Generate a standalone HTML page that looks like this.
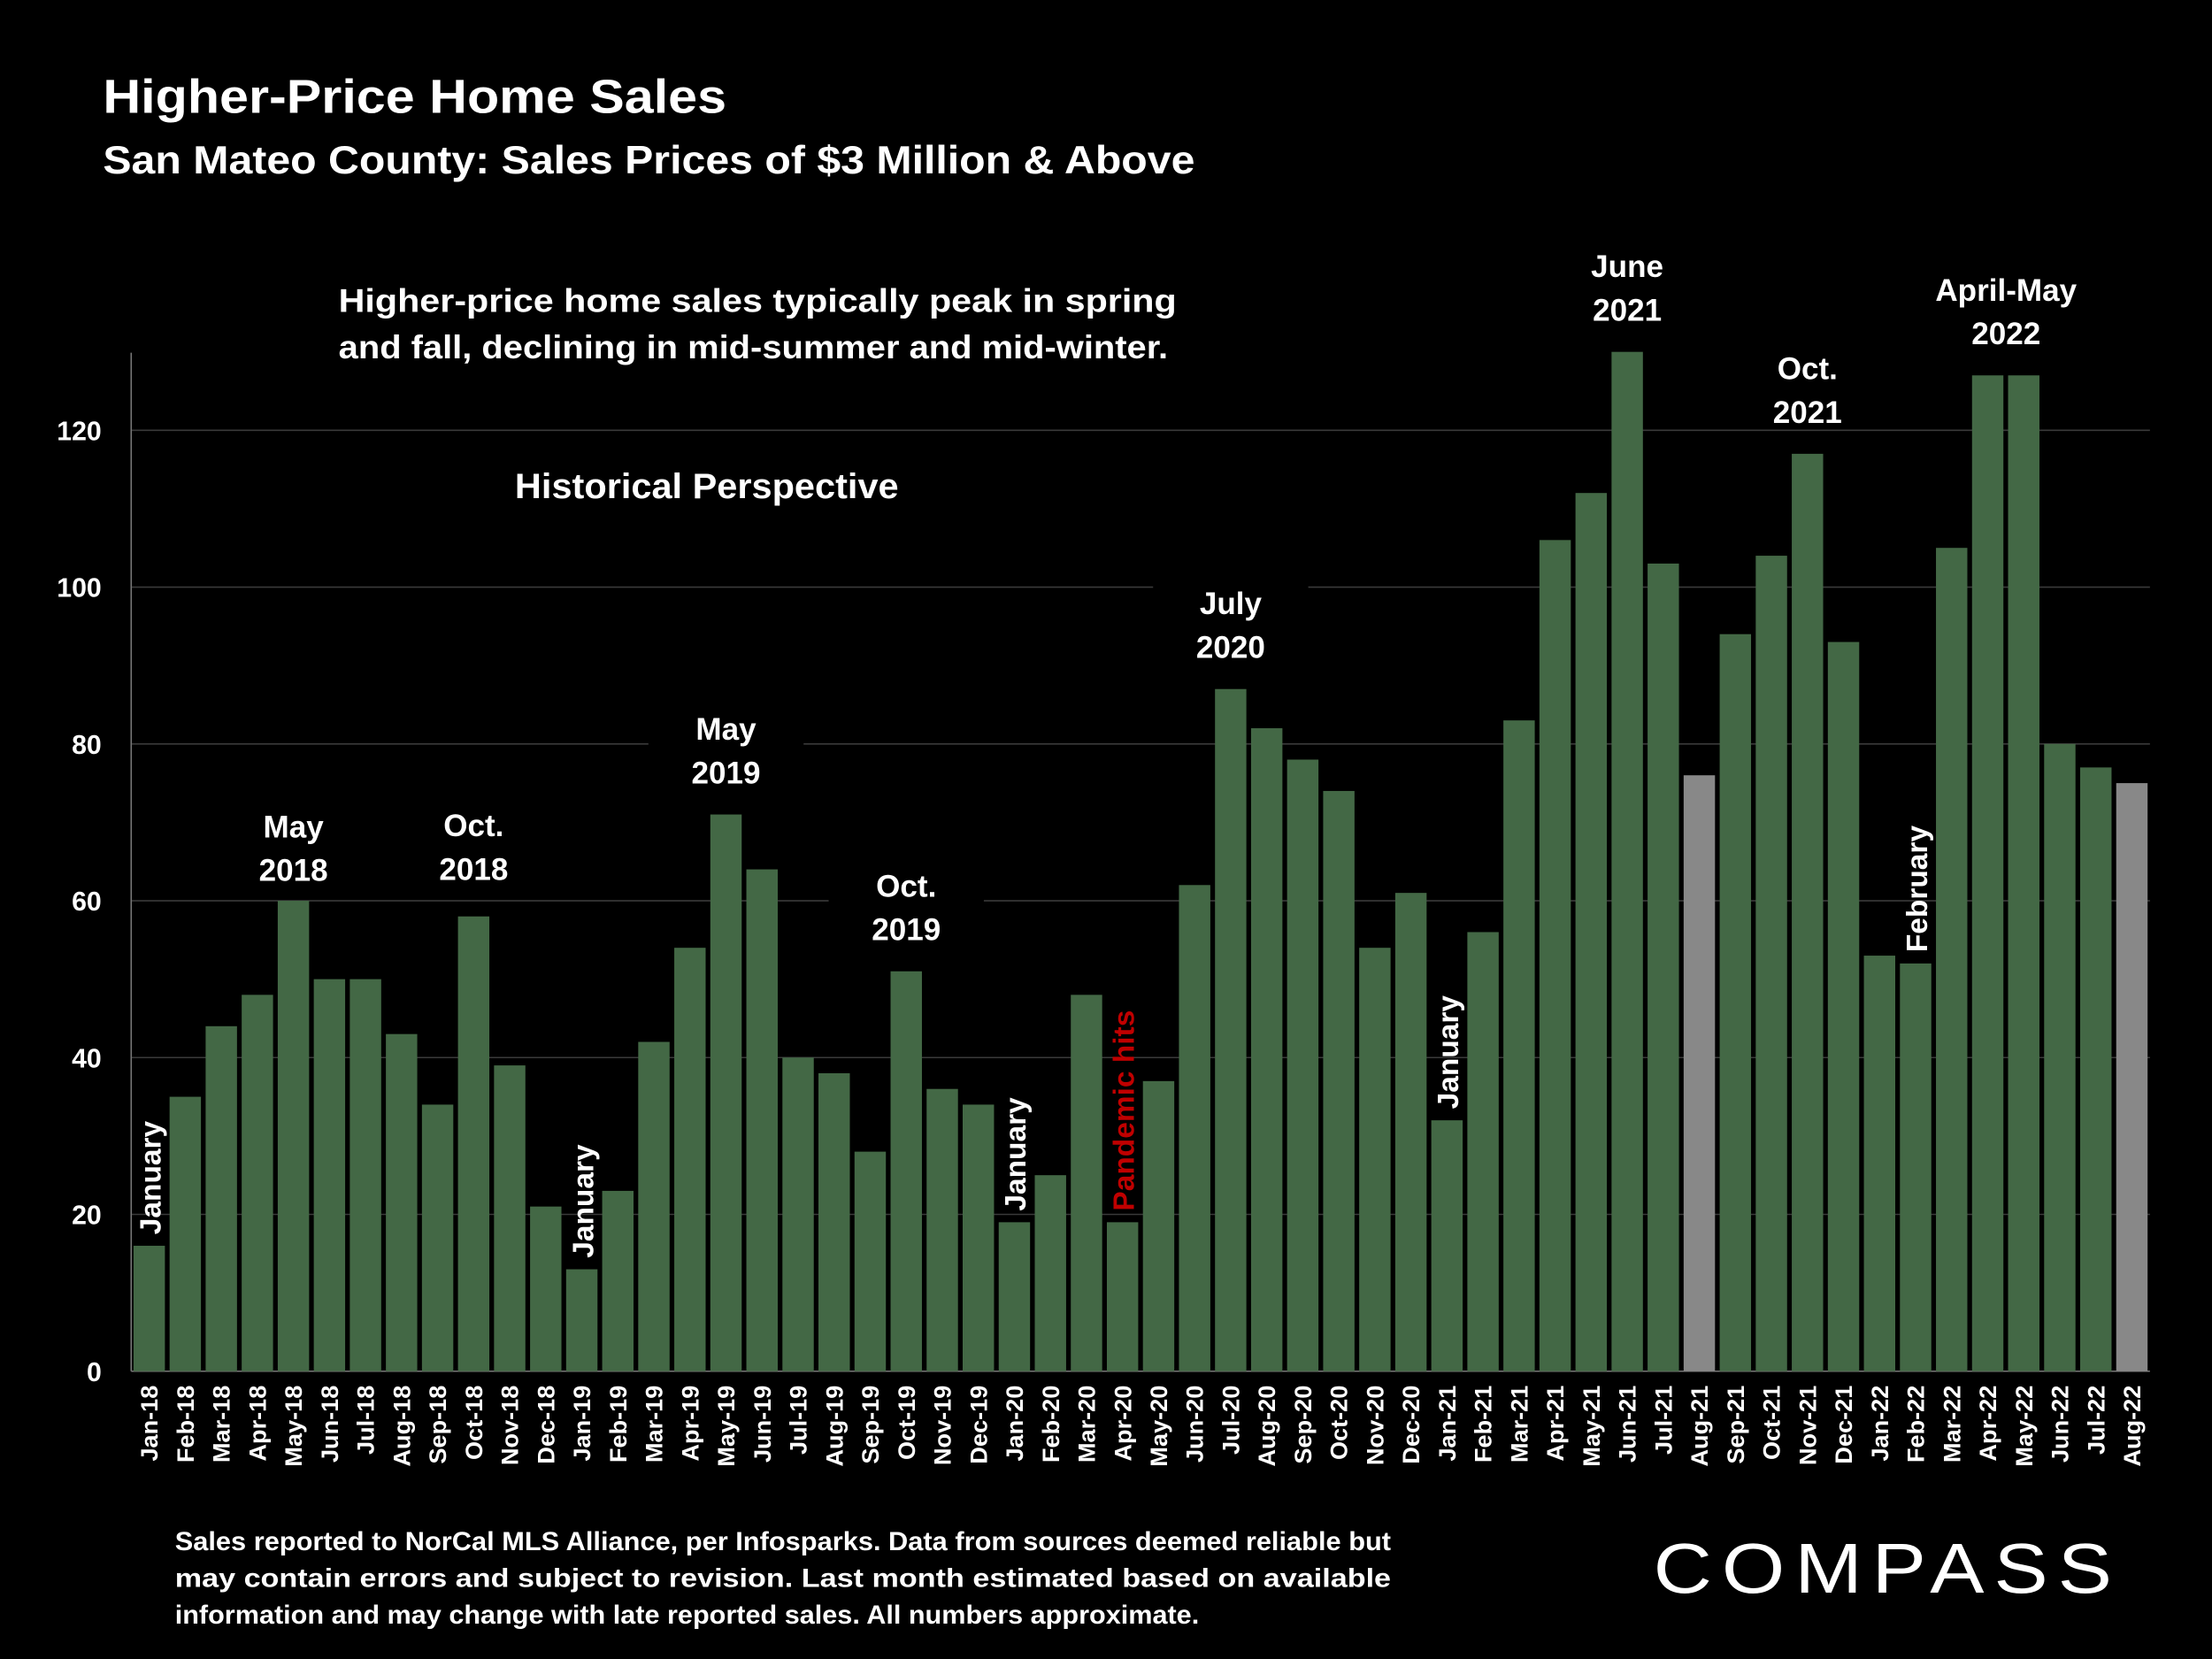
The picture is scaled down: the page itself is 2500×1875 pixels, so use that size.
<!DOCTYPE html>
<html><head><meta charset="utf-8"><style>
html,body{margin:0;padding:0;background:#000;}
svg{display:block;}
text{font-family:"Liberation Sans",sans-serif;font-weight:bold;fill:#fff;}
</style></head><body>
<svg id="chart" width="2500" height="1875" viewBox="0 0 1568 1176" preserveAspectRatio="none" xmlns="http://www.w3.org/2000/svg">
<rect width="1568" height="1176" fill="#000"/>
<text x="73" y="80" font-size="34" textLength="442" lengthAdjust="spacingAndGlyphs">Higher-Price Home Sales</text>
<text x="73" y="123" font-size="28" textLength="774" lengthAdjust="spacingAndGlyphs">San Mateo County: Sales Prices of $3 Million &amp; Above</text>
<g id="grid"></g>
<g id="bars"></g>
<g id="xlabels"></g>
<g id="ylabels"></g>
<g id="annots"></g>
<text x="240" y="221" font-size="23" textLength="594" lengthAdjust="spacingAndGlyphs">Higher-price home sales typically peak in spring</text>
<text x="240" y="254" font-size="23" textLength="588" lengthAdjust="spacingAndGlyphs">and fall, declining in mid-summer and mid-winter.</text>
<text x="365" y="353" font-size="25" textLength="272" lengthAdjust="spacingAndGlyphs">Historical Perspective</text>
<text font-size="18.5">
<tspan x="124" y="1099" textLength="862" lengthAdjust="spacingAndGlyphs">Sales reported to NorCal MLS Alliance, per Infosparks. Data from sources deemed reliable but</tspan>
<tspan x="124" y="1125" textLength="862" lengthAdjust="spacingAndGlyphs">may contain errors and subject to revision. Last month estimated based on available</tspan>
<tspan x="124" y="1151" textLength="726" lengthAdjust="spacingAndGlyphs">information and may change with late reported sales. All numbers approximate.</tspan>
</text>
<text x="1172" y="1129" font-size="50" font-weight="normal" style="font-weight:normal;letter-spacing:6px" textLength="332" lengthAdjust="spacingAndGlyphs">COMPASS</text>
</svg>
<script>
const categories=["Jan-18","Feb-18","Mar-18","Apr-18","May-18","Jun-18","Jul-18","Aug-18","Sep-18","Oct-18","Nov-18","Dec-18","Jan-19","Feb-19","Mar-19","Apr-19","May-19","Jun-19","Jul-19","Aug-19","Sep-19","Oct-19","Nov-19","Dec-19","Jan-20","Feb-20","Mar-20","Apr-20","May-20","Jun-20","Jul-20","Aug-20","Sep-20","Oct-20","Nov-20","Dec-20","Jan-21","Feb-21","Mar-21","Apr-21","May-21","Jun-21","Jul-21","Aug-21","Sep-21","Oct-21","Nov-21","Dec-21","Jan-22","Feb-22","Mar-22","Apr-22","May-22","Jun-22","Jul-22","Aug-22"];
const sales=[16,35,44,48,60,50,50,43,34,58,39,21,13,23,42,54,71,64,40,38,28,51,36,34,19,25,48,19,37,62,87,82,78,74,54,61,32,56,83,106,112,130,103,76,94,104,117,93,53,52,105,127,127,80,77,75];
const estimated=["Aug-21","Aug-22"];
const yTicks=[0,20,40,60,80,100,120];
const NS="http://www.w3.org/2000/svg";
const x0=93,x1=1524,yBase=972,yTop=305,yMaxVal=120;
const step=(x1-x0)/categories.length;
function xPos(i){return x0+step*i+step/2;}
function yPos(v){return yBase-(v/yMaxVal)*(yBase-yTop);}
function mk(tag,attrs){const e=document.createElementNS(NS,tag);for(const k in attrs)e.setAttribute(k,attrs[k]);return e;}
const grid=document.getElementById('grid'),ylab=document.getElementById('ylabels');
yTicks.forEach(t=>{
  if(t>0){const l=mk('line',{x1:x0,x2:x1,y1:yPos(t),y2:yPos(t),stroke:'#3a3a3a','stroke-width':1});
  
  
  grid.appendChild(l);}
  const tx=mk('text',{x:72,y:yPos(t)+7,'font-size':19,'text-anchor':'end'});tx.textContent=t;
  
  
  ylab.appendChild(tx);
});
const ax=mk('line',{x1:x0,x2:x0,y1:250,y2:yBase,stroke:'#777','stroke-width':1});


grid.appendChild(ax);
const xa=mk('line',{x1:x0,x2:x1,y1:yBase,y2:yBase,stroke:'#777','stroke-width':1});


grid.appendChild(xa);
const bars=document.getElementById('bars'),xl=document.getElementById('xlabels');
const bw=step*0.87;
categories.forEach((c,i)=>{
  const v=sales[i];
  const r=mk('rect',{x:xPos(i)-bw/2,y:yPos(v),width:bw,height:yBase-yPos(v),fill:estimated.includes(c)?'#888888':'#436845'});
  
  
  bars.appendChild(r);
  const t=mk('text',{x:0,y:0,'font-size':17,'text-anchor':'end',transform:`translate(${xPos(i)+6},982) rotate(-90)`});
  t.textContent=c;
  
  
  xl.appendChild(t);
});
const an=document.getElementById('annots');
function label(lines,cat,val,gap){
  const i=categories.indexOf(cat);const cx=xPos(i);
  const yb=yPos(val)-gap;
  const h=lines.length*31;
  const bg=mk('rect',{x:cx-55,y:yb-h-2,width:110,height:h+6,fill:'#000'});
  
  
  an.appendChild(bg);
  lines.forEach((s,k)=>{const t=mk('text',{x:cx,y:yb-(lines.length-1-k)*31,'font-size':22,'text-anchor':'middle'});t.textContent=s;
  
  
  an.appendChild(t);});
}
label(["May","2018"],"May-18",60,14);
label(["Oct.","2018"],"Oct-18",58,26);
label(["May","2019"],"May-19",71,22);
label(["Oct.","2019"],"Oct-19",51,22);
label(["July","2020"],"Jul-20",87,22);
label(["June","2021"],"Jun-21",130,22);
label(["Oct.","2021"],"Nov-21",117,22);
label(["April-May","2022"],"Apr-22",127,22);
an.lastChild.setAttribute('x',xPos(51)+13);an.lastChild.previousSibling.setAttribute('x',xPos(51)+13);
function vlabel(s,cat,val,color){
  const i=categories.indexOf(cat);
  const t=mk('text',{x:0,y:0,'font-size':21,'text-anchor':'start',fill:color,transform:`translate(${xPos(i)+8},${yPos(val)-8}) rotate(-90)`});
  t.setAttribute('style','fill:'+color);
  t.textContent=s;
  
  
  an.appendChild(t);
}
vlabel("January","Jan-18",16,'#fff');
vlabel("January","Jan-19",13,'#fff');
vlabel("January","Jan-20",19,'#fff');
vlabel("Pandemic hits","Apr-20",19,'#c00000');
vlabel("January","Jan-21",32,'#fff');
vlabel("February","Feb-22",52,'#fff');
</script>
</body></html>
